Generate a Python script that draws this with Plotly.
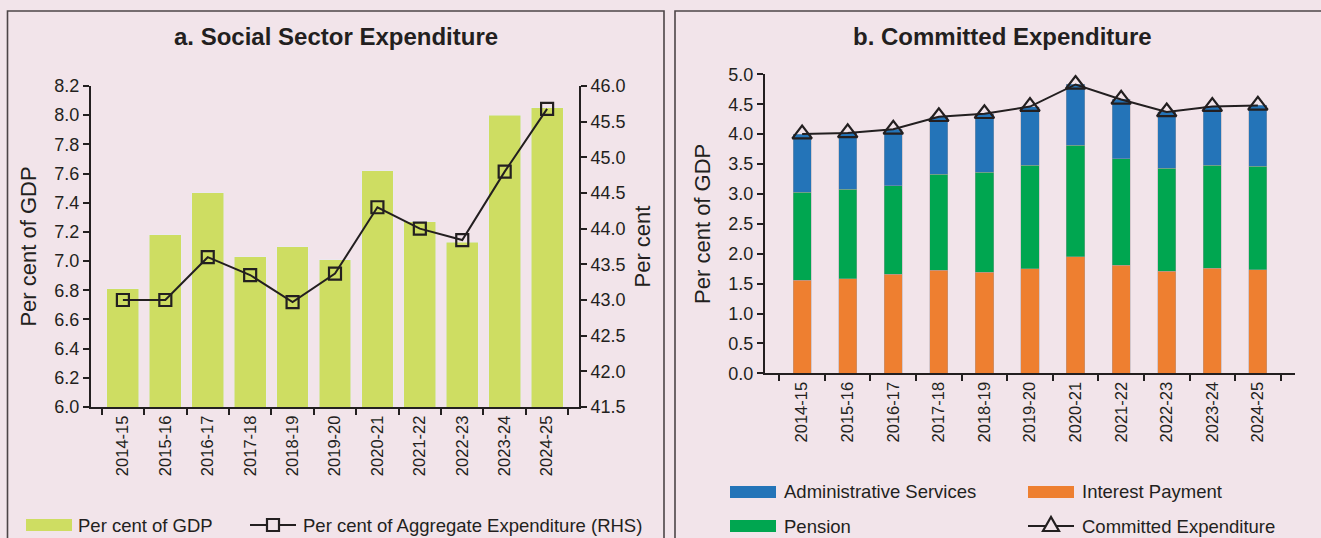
import plotly.graph_objects as go

years = ['2014-15', '2015-16', '2016-17', '2017-18', '2018-19', '2019-20',
         '2020-21', '2021-22', '2022-23', '2023-24', '2024-25']

# panel a
social_gdp = [6.81, 7.18, 7.47, 7.03, 7.10, 7.01, 7.62, 7.27, 7.13, 8.00, 8.05]
social_agg = [43.0, 43.0, 43.6, 43.35, 42.97, 43.37, 44.3, 44.0, 43.84, 44.8, 45.68]

# panel b
interest = [1.56, 1.58, 1.66, 1.72, 1.69, 1.75, 1.95, 1.81, 1.71, 1.76, 1.73]
pension = [1.47, 1.50, 1.48, 1.61, 1.67, 1.73, 1.86, 1.78, 1.72, 1.72, 1.73]
admin = [0.97, 0.94, 0.94, 0.96, 0.98, 0.98, 1.02, 0.99, 0.94, 0.98, 1.02]
committed = [4.00, 4.02, 4.08, 4.29, 4.34, 4.46, 4.83, 4.58, 4.37, 4.46, 4.48]

W, H = 1321, 538
BG = '#f2e4ea'
INK = '#231f20'
FONT = 'Liberation Sans, Arial, sans-serif'
LIME, ORANGE, GREEN, BLUE = '#cedd62', '#ee7f30', '#00a650', '#2474b8'
EDGE = 'rgba(170,160,165,0.7)'


def px(x):
    return x / W


def py(y):
    return 1 - y / H


fig = go.Figure()

# a. Social Sector Expenditure
fig.add_trace(go.Bar(x=years, y=social_gdp, width=0.75, marker_color=LIME,
                     xaxis='x', yaxis='y', name='Per cent of GDP'))
fig.add_trace(go.Scatter(x=years, y=social_agg, mode='lines+markers',
                         xaxis='x', yaxis='y2',
                         name='Per cent of Aggregate Expenditure (RHS)',
                         line=dict(color=INK, width=2),
                         marker=dict(symbol='square-open', size=12,
                                     color=INK, line=dict(width=2.2, color=INK))))

# b. Committed Expenditure
for vals, col, name in [(interest, ORANGE, 'Interest Payment'),
                        (pension, GREEN, 'Pension'),
                        (admin, BLUE, 'Administrative Services')]:
    fig.add_trace(go.Bar(x=years, y=vals, width=0.4, name=name,
                         marker=dict(color=col, line=dict(color=EDGE, width=0.6)),
                         xaxis='x2', yaxis='y3'))
fig.add_trace(go.Scatter(x=years, y=committed, mode='lines+markers',
                         xaxis='x2', yaxis='y3', name='Committed Expenditure',
                         line=dict(color=INK, width=2),
                         marker=dict(symbol='triangle-up-open', size=17,
                                     color=INK, line=dict(width=2.2, color=INK))))

axis_common = dict(showline=True, linecolor=INK, linewidth=2, ticks='outside',
                   ticklen=6, tickwidth=1.5, tickcolor=INK, showgrid=False,
                   zeroline=False, automargin=False,
                   tickfont=dict(size=18, color=INK))
xtick_font = dict(size=16.5, color=INK)

fig.update_layout(
    width=W, height=H,
    margin=dict(l=0, r=0, t=0, b=0),
    paper_bgcolor=BG, plot_bgcolor=BG,
    font=dict(family=FONT, color=INK, size=18),
    barmode='stack',
    showlegend=False,
    xaxis=dict(axis_common, domain=[px(91), px(579)], anchor='y',
               tickson='boundaries', tickangle=-90, tickfont=xtick_font),
    yaxis=dict(axis_common, domain=[py(407), py(86)], anchor='x',
               range=[6.0, 8.2], dtick=0.2, tickformat='.1f',
               title=dict(text='Per cent of GDP', standoff=12)),
    yaxis2=dict(axis_common, overlaying='y', side='right', anchor='x',
                range=[41.5, 46.0], dtick=0.5, tickformat='.1f',
                title=dict(text='Per cent', standoff=10)),
    xaxis2=dict(axis_common, domain=[px(765), px(1295)], anchor='y3',
                tickson='boundaries', tickangle=-90, tickfont=xtick_font),
    yaxis3=dict(axis_common, domain=[py(373.3), py(74.3)], anchor='x2',
                range=[0, 5.0], dtick=0.5, tickformat='.1f',
                title=dict(text='Per cent of GDP', standoff=12)),
)

# panel frames
for x0, x1 in [(7.5, 664), (675, 1330)]:
    fig.add_shape(type='rect', xref='paper', yref='paper',
                  x0=px(x0), x1=px(x1), y0=py(560), y1=py(11),
                  line=dict(color='#4d4548', width=1.6), layer='below')

# panel titles
for text, xc in [('a. Social Sector Expenditure', 336),
                 ('b. Committed Expenditure', 1002)]:
    fig.add_annotation(text='<b>' + text + '</b>', x=px(xc), y=py(37),
                       xref='paper', yref='paper', showarrow=False,
                       xanchor='center', yanchor='middle',
                       font=dict(size=24, color=INK))


# legends drawn by hand so the swatches are wide bars as in the original
def swatch(x, y, color):
    fig.add_shape(type='rect', xref='paper', yref='paper', line_width=0,
                  x0=px(x), x1=px(x + 46), y0=py(y + 6), y1=py(y - 6),
                  fillcolor=color)


def line_key(x, y, symbol):
    fig.add_shape(type='line', xref='paper', yref='paper',
                  x0=px(x), x1=px(x + 46), y0=py(y), y1=py(y),
                  line=dict(color=INK, width=2))
    xc = x + 23
    if symbol == 'square':
        fig.add_shape(type='rect', xref='paper', yref='paper',
                      x0=px(xc - 6), x1=px(xc + 6), y0=py(y + 6), y1=py(y - 6),
                      fillcolor=BG, line=dict(color=INK, width=2.2))
    else:
        path = 'M {:.5f},{:.5f} L {:.5f},{:.5f} L {:.5f},{:.5f} Z'.format(
            px(xc - 8), py(y + 5), px(xc + 8), py(y + 5), px(xc), py(y - 9))
        fig.add_shape(type='path', xref='paper', yref='paper', path=path,
                      fillcolor=BG, line=dict(color=INK, width=2.2))


def key_text(x, y, text):
    fig.add_annotation(text=text, x=px(x), y=py(y), xref='paper', yref='paper',
                       showarrow=False, xanchor='left', yanchor='middle',
                       font=dict(size=18.5, color=INK))


swatch(26, 525, LIME)
key_text(76, 525, 'Per cent of GDP')
line_key(250, 525, 'square')
key_text(301, 525, 'Per cent of Aggregate Expenditure (RHS)')

swatch(730, 492, BLUE)
key_text(782, 492, 'Administrative Services')
swatch(1028, 492, ORANGE)
key_text(1080, 492, 'Interest Payment')
swatch(730, 526, GREEN)
key_text(782, 526, 'Pension')
line_key(1028, 526, 'triangle')
key_text(1080, 526, 'Committed Expenditure')

fig.write_html("out.html", config={'displayModeBar': False},
               post_script="document.body.style.margin='0';")
